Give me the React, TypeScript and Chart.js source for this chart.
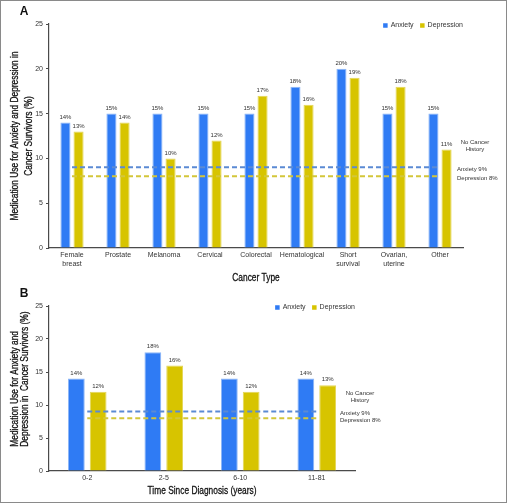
import React, { useEffect, useRef } from "react";
import { Chart, registerables } from "chart.js";

Chart.register(...registerables);

// ---------- Data ----------
const cancerTypes: (string | string[])[] = [
  ["Female", "breast"],
  "Prostate",
  "Melanoma",
  "Cervical",
  "Colorectal",
  "Hematological",
  ["Short", "survival"],
  ["Ovarian,", "uterine"],
  "Other",
];
const anxietyByType = [14, 15, 15, 15, 15, 18, 20, 15, 15];
const depressionByType = [13, 14, 10, 12, 17, 16, 19, 18, 11];

const timeSinceDiagnosis = ["0-2", "2-5", "6-10", "11-81"];
const anxietyByTime = [14, 18, 14, 14];
const depressionByTime = [12, 16, 12, 13];

const noCancerAnxiety = 9;
const noCancerDepression = 8;

const yMax = 25;
const yStep = 5;

// ---------- Styles ----------
const BLUE = "#2f7bf4";
const YELLOW = "#d7c400";
const BLUE_EDGE = "#8db6f7";
const YELLOW_EDGE = "#e4d656";
const BLUE_DASH = "#5b8ad4";
const YELLOW_DASH = "#d3c63a";
const AXIS = "#4a4a4a";
const TEXT = "#333333";
const BASE_FONT = "'Liberation Sans', Arial, sans-serif";
const CONDENSE = 0.76;

type PanelOpts = {
  panelLabel: string;
  panelLabelY: number;
  noteHeaderX: number;
  noteHeaderDy: number;
  noteLabelX: number;
  xTitle: string;
  xTitleDy: number;
  yTitle: string[];
  yTitleX: number[];
  yTitleAlign: "center" | "start";
  yTitleStartDy: number;
};

const extrasPlugin = {
  id: "extras",
  afterDatasetsDraw(chart: any, _args: any, opts: PanelOpts) {
    const ctx = chart.ctx;
    const area = chart.chartArea;
    const yScale = chart.scales.y;
    ctx.save();

    // value labels above bars
    ctx.font = `6px ${BASE_FONT}`;
    ctx.fillStyle = TEXT;
    ctx.textAlign = "center";
    ctx.textBaseline = "middle";
    chart.data.datasets.forEach((ds: any, i: number) => {
      if (ds.type === "line") return;
      const meta = chart.getDatasetMeta(i);
      meta.data.forEach((bar: any, j: number) => {
        ctx.fillText(`${ds.data[j]}%`, bar.x, bar.y - 5.5);
      });
    });

    // legend (bar datasets only), right-aligned at chart top
    ctx.font = `7px ${BASE_FONT}`;
    ctx.textAlign = "left";
    const items = chart.data.datasets.filter((d: any) => d.type !== "line");
    const box = 4.5;
    const gapBoxText = 3;
    const gapItems = 6.5;
    let total = 0;
    items.forEach((d: any, k: number) => {
      total += box + gapBoxText + ctx.measureText(d.label).width;
      if (k < items.length - 1) total += gapItems;
    });
    let x = area.right - total;
    const ly = area.top + 1.5;
    items.forEach((d: any) => {
      ctx.fillStyle = d.backgroundColor;
      ctx.fillRect(x, ly - box / 2, box, box);
      x += box + gapBoxText;
      ctx.fillStyle = TEXT;
      ctx.fillText(d.label, x, ly);
      x += ctx.measureText(d.label).width + gapItems;
    });

    // No cancer history annotation
    const yA = yScale.getPixelForValue(noCancerAnxiety);
    const yD = yScale.getPixelForValue(noCancerDepression);
    ctx.font = `6px ${BASE_FONT}`;
    ctx.fillStyle = TEXT;
    ctx.textAlign = "center";
    const hx = area.right + opts.noteHeaderX;
    ctx.fillText("No Cancer", hx, yA + opts.noteHeaderDy);
    ctx.fillText("History", hx, yA + opts.noteHeaderDy + 7.3);
    ctx.textAlign = "left";
    const lx = area.right + opts.noteLabelX;
    ctx.fillText(`Anxiety ${noCancerAnxiety}%`, lx, yA + 1.5);
    ctx.fillText(`Depression ${noCancerDepression}%`, lx, yD + 2);

    // axis titles (condensed)
    ctx.font = `11px ${BASE_FONT}`;
    ctx.fillStyle = "#111";
    ctx.strokeStyle = "#111";
    ctx.lineWidth = 0.3;
    ctx.textBaseline = "middle";
    ctx.save();
    ctx.translate((area.left + area.right) / 2, area.bottom + opts.xTitleDy);
    ctx.scale(CONDENSE, 1);
    ctx.textAlign = "center";
    ctx.fillText(opts.xTitle, 0, 0);
    ctx.strokeText(opts.xTitle, 0, 0);
    ctx.restore();
    opts.yTitle.forEach((line, k) => {
      ctx.save();
      const ty =
        opts.yTitleAlign === "center"
          ? (area.top + area.bottom) / 2
          : area.bottom - opts.yTitleStartDy;
      ctx.translate(opts.yTitleX[k], ty);
      ctx.rotate(-Math.PI / 2);
      ctx.scale(CONDENSE, 1);
      ctx.textAlign = opts.yTitleAlign === "center" ? "center" : "left";
      ctx.fillText(line, 0, 0);
      ctx.strokeText(line, 0, 0);
      ctx.restore();
    });

    // panel letter
    ctx.font = `bold 12px ${BASE_FONT}`;
    ctx.fillStyle = "#111";
    ctx.textAlign = "center";
    ctx.fillText(opts.panelLabel, 24, opts.panelLabelY);
    ctx.restore();
  },
};

function buildConfig(
  labels: (string | string[])[],
  anxiety: number[],
  depression: number[],
  layout: { top: number; right: number; xHeight: number },
  panel: PanelOpts
): any {
  return {
    type: "bar",
    data: {
      labels,
      datasets: [
        {
          type: "line",
          label: "No cancer history anxiety",
          data: labels.map(() => noCancerAnxiety),
          borderColor: BLUE_DASH,
          borderWidth: 2,
          borderDash: [5, 3],
          pointRadius: 0,
          fill: false,
          order: 0,
        },
        {
          type: "line",
          label: "No cancer history depression",
          data: labels.map(() => noCancerDepression),
          borderColor: YELLOW_DASH,
          borderWidth: 2,
          borderDash: [5, 3],
          pointRadius: 0,
          fill: false,
          order: 0,
        },
        {
          label: "Anxiety",
          data: anxiety,
          backgroundColor: BLUE,
          borderColor: BLUE_EDGE,
          borderWidth: 1,
          categoryPercentage: 0.57,
          barPercentage: 0.77,
          order: 1,
        },
        {
          label: "Depression",
          data: depression,
          backgroundColor: YELLOW,
          borderColor: YELLOW_EDGE,
          borderWidth: 1,
          categoryPercentage: 0.57,
          barPercentage: 0.77,
          order: 1,
        },
      ],
    },
    options: {
      responsive: false,
      animation: false,
      events: [],
      layout: { padding: { top: layout.top, right: layout.right, bottom: 0, left: 0 } },
      plugins: {
        legend: { display: false },
        tooltip: { enabled: false },
        title: { display: false },
        extras: panel,
      },
      scales: {
        x: {
          offset: true,
          grid: { display: false, drawTicks: false },
          border: { display: true, color: AXIS, width: 1.2 },
          ticks: {
            color: TEXT,
            font: { size: 7, family: BASE_FONT, lineHeight: 1.2 },
            padding: 3,
            maxRotation: 0,
            autoSkip: false,
          },
          title: { display: false },
          afterFit: (s: any) => {
            s.height = layout.xHeight;
          },
        },
        y: {
          min: 0,
          max: yMax,
          ticks: {
            stepSize: yStep,
            color: TEXT,
            font: { size: 7, family: BASE_FONT },
            padding: 3,
          },
          grid: {
            drawOnChartArea: false,
            drawTicks: true,
            tickLength: 3,
            color: AXIS,
          },
          border: { display: true, color: AXIS, width: 1.2 },
          title: { display: false },
          afterFit: (s: any) => {
            s.width = 49;
          },
        },
      },
    },
    plugins: [extrasPlugin],
  };
}

function ChartCanvas({
  width,
  height,
  top,
  config,
}: {
  width: number;
  height: number;
  top: number;
  config: () => any;
}) {
  const ref = useRef<HTMLCanvasElement | null>(null);
  useEffect(() => {
    if (!ref.current) return;
    const chart = new Chart(ref.current, config());
    return () => chart.destroy();
  }, []);
  return (
    <canvas
      ref={ref}
      width={width}
      height={height}
      style={{ position: "absolute", left: 0, top, width, height }}
    />
  );
}

export default function App() {
  return (
    <div
      style={{
        position: "fixed",
        left: 0,
        top: 0,
        width: 507,
        height: 503,
        background: "#fff",
        overflow: "hidden",
      }}
    >
      <ChartCanvas
        width={507}
        height={288}
        top={0}
        config={() =>
          buildConfig(
            cancerTypes,
            anxietyByType,
            depressionByType,
            { top: 24, right: 44, xHeight: 40 },
            {
              panelLabel: "A",
              panelLabelY: 12,
              noteHeaderX: 12,
              noteHeaderDy: -25,
              noteLabelX: -6,
              xTitle: "Cancer Type",
              xTitleDy: 29.5,
              yTitle: ["Medication Use for Anxiety and Depression in", "Cancer Survivors (%)"],
              yTitleX: [14.5, 28.5],
              yTitleAlign: "center",
              yTitleStartDy: 0,
            }
          )
        }
      />
      <ChartCanvas
        width={507}
        height={218}
        top={285}
        config={() =>
          buildConfig(
            timeSinceDiagnosis,
            anxietyByTime,
            depressionByTime,
            { top: 21, right: 152, xHeight: 32 },
            {
              panelLabel: "B",
              panelLabelY: 8.5,
              noteHeaderX: 5,
              noteHeaderDy: -18.3,
              noteLabelX: -15,
              xTitle: "Time Since Diagnosis (years)",
              xTitleDy: 19.7,
              yTitle: ["Medication Use for Anxiety and", "Depression in  Cancer Survivors (%)"],
              yTitleX: [14.5, 25],
              yTitleAlign: "start",
              yTitleStartDy: 24.3,
            }
          )
        }
      />
      <div
        style={{
          position: "absolute",
          left: 0,
          top: 0,
          width: 507,
          height: 503,
          boxSizing: "border-box",
          border: "1px solid #8a8a8a",
          pointerEvents: "none",
        }}
      />
    </div>
  );
}
